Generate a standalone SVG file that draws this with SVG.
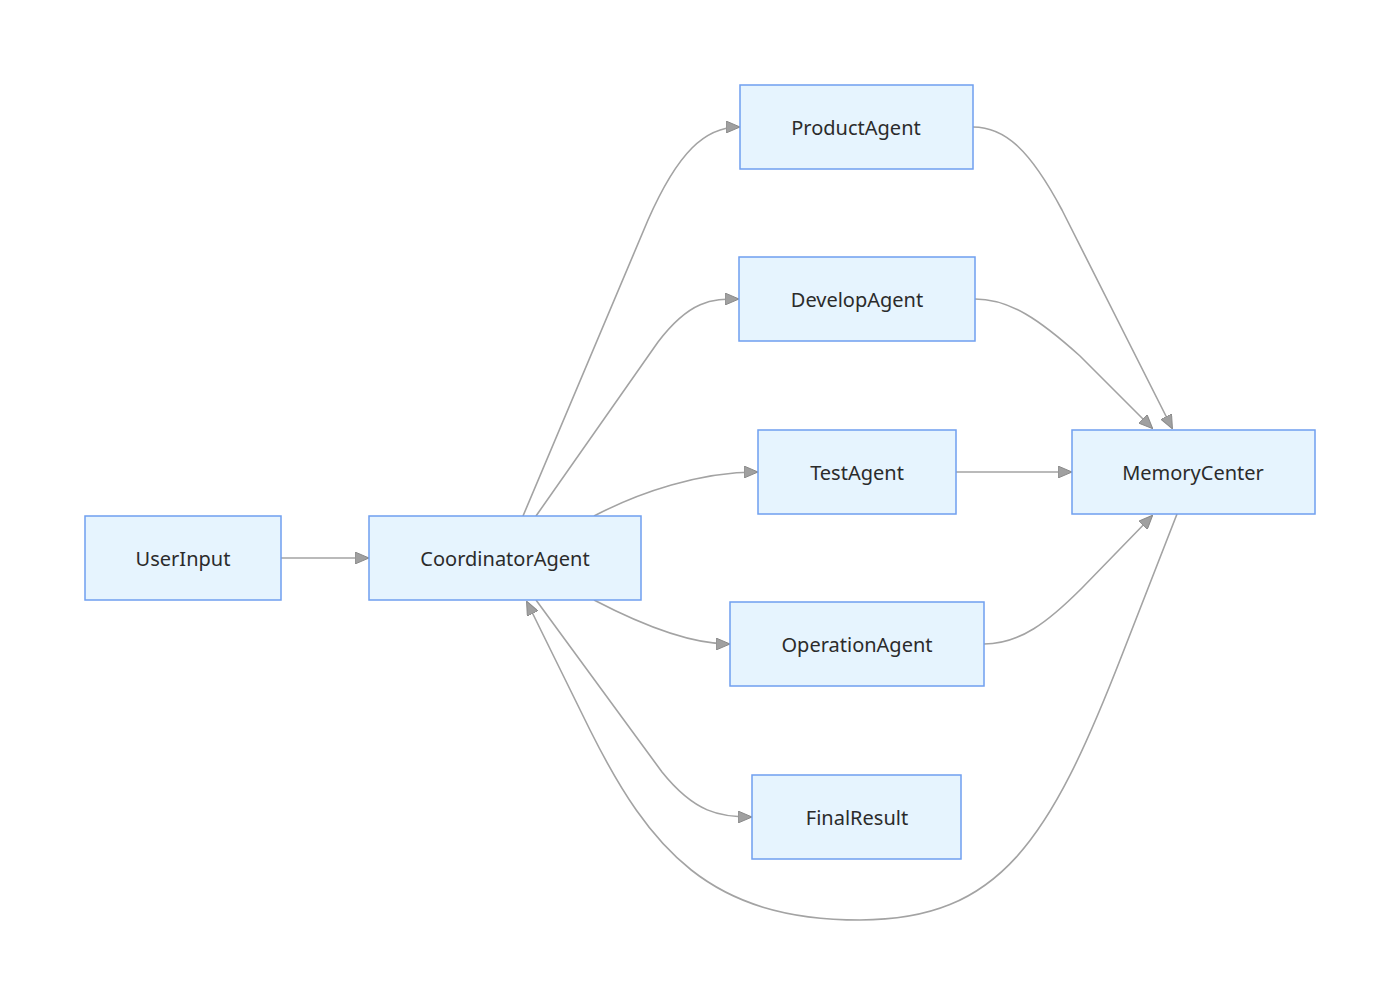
<svg xmlns="http://www.w3.org/2000/svg" width="1400" height="1006" viewBox="0 0 1400 1006">
<style>
.node rect{fill:#e6f4fe;stroke:#6f9fef;stroke-width:1.5}
.node text{font-family:"Noto Sans","Open Sans",sans-serif;font-size:20px;fill:#2b2b2b;text-anchor:middle;dominant-baseline:central}
.edges path{fill:none;stroke:#a3a3a3;stroke-width:1.6;marker-end:url(#arr)}
</style>
<defs>
<marker id="arr" markerUnits="userSpaceOnUse" markerWidth="14" markerHeight="12" refX="13" refY="6" orient="auto">
<path d="M0,0 L14,6 L0,12 Z" fill="#a0a0a0" stroke="#8a8a8a" stroke-width="1"/>
</marker>
</defs>
<rect width="1400" height="1006" fill="#ffffff"/>
<g class="edges">
<path d="M281,558 L368,558"/>
<path d="M523,516 L648,220 C678,152 705,127 739,127"/>
<path d="M536,516 L658,342 C690,300 712,299 738,299"/>
<path d="M594,516 C640,492 700,472 757,472"/>
<path d="M594,600 C640,624 690,644 729,644"/>
<path d="M536,600 L662,772 C695,813 720,817 751,817"/>
<path d="M973,127 C1005,127 1030,150 1062,210 L1172,428"/>
<path d="M975,299 C1010,299 1040,320 1080,356 L1152,428"/>
<path d="M956,472 L1071,472"/>
<path d="M984,644 C1020,644 1048,622 1082,588 L1152,516"/>
<path d="M1177,514 L1122,655 C1050,840 1000,920 860,920 C710,920 650,850 590,730 L527,602"/>
</g>
<g id="UserInput" class="node"><rect x="85" y="516" width="196" height="84"/><text x="183" y="558">UserInput</text></g>
<g id="CoordinatorAgent" class="node"><rect x="369" y="516" width="272" height="84"/><text x="505" y="558">CoordinatorAgent</text></g>
<g id="ProductAgent" class="node"><rect x="740" y="85" width="233" height="84"/><text x="856" y="127">ProductAgent</text></g>
<g id="DevelopAgent" class="node"><rect x="739" y="257" width="236" height="84"/><text x="857" y="299">DevelopAgent</text></g>
<g id="TestAgent" class="node"><rect x="758" y="430" width="198" height="84"/><text x="857" y="472">TestAgent</text></g>
<g id="OperationAgent" class="node"><rect x="730" y="602" width="254" height="84"/><text x="857" y="644">OperationAgent</text></g>
<g id="FinalResult" class="node"><rect x="752" y="775" width="209" height="84"/><text x="857" y="817">FinalResult</text></g>
<g id="MemoryCenter" class="node"><rect x="1072" y="430" width="243" height="84"/><text x="1193" y="472">MemoryCenter</text></g>
</svg>
